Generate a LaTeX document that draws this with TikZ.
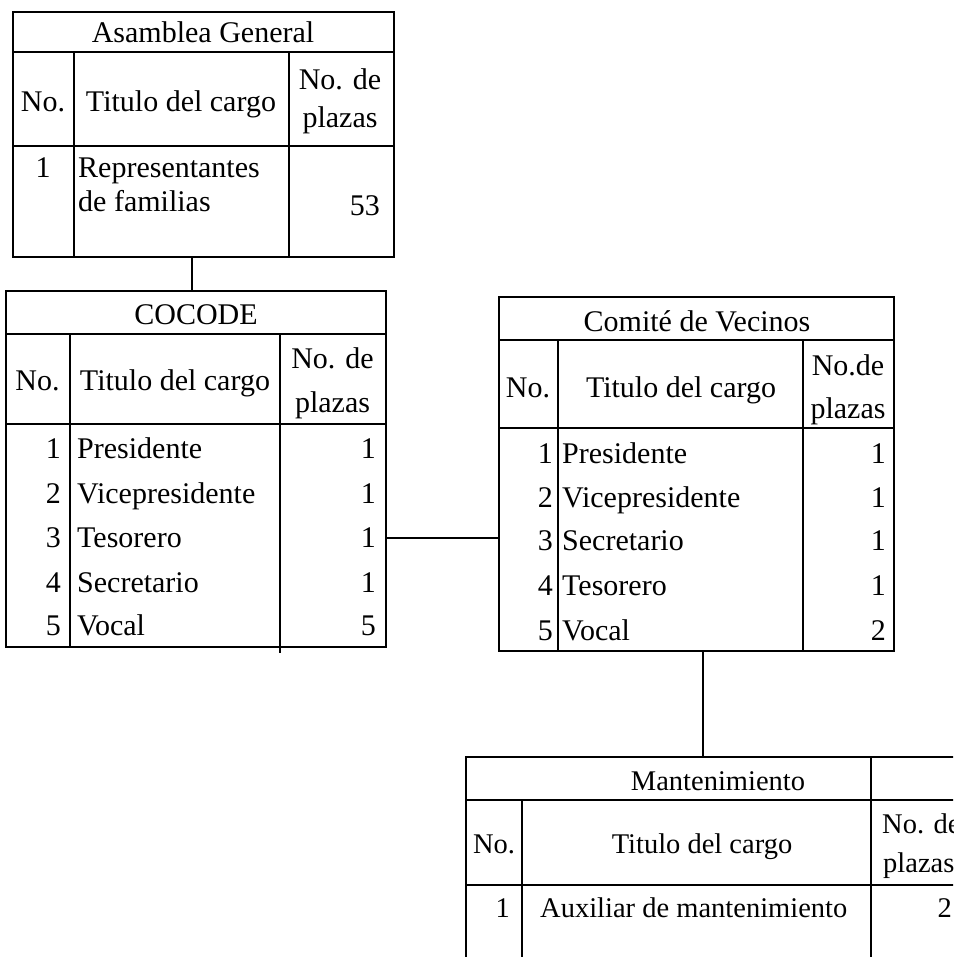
\documentclass[tikz,border=0pt]{standalone}
\usepackage{fontspec}
\setmainfont{Liberation Serif}
\begin{document}
\begin{tikzpicture}[x=1pt,y=-1pt,
  tbl/.style={draw, line width=1.6pt, inner sep=0pt, anchor=north west},
  rule/.style={line width=1.6pt},
  conn/.style={line width=1.6pt},
  txt/.style={inner sep=0pt, font=\fontsize{30}{36}\selectfont},
  c/.style={txt, anchor=base},
  l/.style={txt, anchor=base west},
  r/.style={txt, anchor=base east},
  small/.style={font=\fontsize{28.5}{34}\selectfont}]
\clip (0,0) rectangle (953,957);
\fill[white] (0,0) rectangle (953,957);

% ---------- Asamblea General ----------
\node[tbl, minimum width=381pt, minimum height=245pt] (ag) at (12,11) {};
\draw[rule] (12,52) -- (393,52);
\draw[rule] (12,146) -- (393,146);
\draw[rule] (74,52) -- (74,256);
\draw[rule] (289,52) -- (289,256);
\node[c] (agT) at (203,43) {Asamblea General};
\node[c] (agH1) at (43,112) {No.};
\node[c] (agH2) at (181,112) {Titulo del cargo};
\node[c] (agH3a) at (340,90) {No. de};
\node[c] (agH3b) at (340,128) {plazas};
\node[c] (agR1n) at (43,178) {1};
\node[l] (agR1a) at (78,178) {Representantes};
\node[l] (agR1b) at (78,212) {de familias};
\node[r] (agR1p) at (380,216) {53};

% ---------- COCODE ----------
\node[tbl, minimum width=380pt, minimum height=356pt] (cocode) at (5,290) {};
\draw[rule] (5,334) -- (385,334);
\draw[rule] (5,424) -- (385,424);
\draw[rule] (70,334) -- (70,646);
\draw[rule] (280,334) -- (280,653);
\node[c] (coT) at (196,324) {COCODE};
\node[c] (coH1) at (37.5,390) {No.};
\node[c] (coH2) at (175,390) {Titulo del cargo};
\node[c] (coH3a) at (332.5,368) {No. de};
\node[c] (coH3b) at (332.5,412) {plazas};
\node[r] (co1n) at (61,458) {1};
\node[l] (co1t) at (77,458) {Presidente};
\node[r] (co1p) at (376,458) {1};
\node[r] (co2n) at (61,503) {2};
\node[l] (co2t) at (77,503) {Vicepresidente};
\node[r] (co2p) at (376,503) {1};
\node[r] (co3n) at (61,547) {3};
\node[l] (co3t) at (77,547) {Tesorero};
\node[r] (co3p) at (376,547) {1};
\node[r] (co4n) at (61,592) {4};
\node[l] (co4t) at (77,592) {Secretario};
\node[r] (co4p) at (376,592) {1};
\node[r] (co5n) at (61,635) {5};
\node[l] (co5t) at (77,635) {Vocal};
\node[r] (co5p) at (376,635) {5};

% ---------- Comite de Vecinos ----------
\node[tbl, minimum width=395pt, minimum height=354pt] (comite) at (498,296) {};
\draw[rule] (498,340) -- (893,340);
\draw[rule] (498,428) -- (893,428);
\draw[rule] (558,340) -- (558,650);
\draw[rule] (803,340) -- (803,650);
\node[c] (cvT) at (697,331) {Comité de Vecinos};
\node[c] (cvH1) at (528,397) {No.};
\node[c] (cvH2) at (681,397) {Titulo del cargo};
\node[c] (cvH3a) at (848,375) {No.de};
\node[c] (cvH3b) at (848,418) {plazas};
\node[r] (cv1n) at (553,463) {1};
\node[l] (cv1t) at (562,463) {Presidente};
\node[r] (cv1p) at (886,463) {1};
\node[r] (cv2n) at (553,507) {2};
\node[l] (cv2t) at (562,507) {Vicepresidente};
\node[r] (cv2p) at (886,507) {1};
\node[r] (cv3n) at (553,550) {3};
\node[l] (cv3t) at (562,550) {Secretario};
\node[r] (cv3p) at (886,550) {1};
\node[r] (cv4n) at (553,595) {4};
\node[l] (cv4t) at (562,595) {Tesorero};
\node[r] (cv4p) at (886,595) {1};
\node[r] (cv5n) at (553,640) {5};
\node[l] (cv5t) at (562,640) {Vocal};
\node[r] (cv5p) at (886,640) {2};

% ---------- Mantenimiento ----------
\node[tbl, minimum width=600pt, minimum height=300pt] (mant) at (465,756) {};
\draw[rule] (465,800) -- (1065,800);
\draw[rule] (465,885) -- (1065,885);
\draw[rule] (522,800) -- (522,1056);
\draw[rule] (871,756) -- (871,1056);
\node[c, small] (mtT) at (718,790) {Mantenimiento};
\node[c, small] (mtH1) at (494,853) {No.};
\node[c, small] (mtH2) at (702,853) {Titulo del cargo};
\node[l, small] (mtH3a) at (882,833) {No. de};
\node[l, small] (mtH3b) at (883,872) {plazas};
\node[r, small] (mt1n) at (510,917) {1};
\node[l, small] (mt1t) at (540,917) {Auxiliar de mantenimiento};
\node[r, small] (mt1p) at (952,917) {2};

% ---------- connectors ----------
\coordinate (k1) at (192,0);
\coordinate (k2) at (0,538);
\coordinate (k3) at (703,0);
\draw[conn] (ag.south -| k1) -- (cocode.north -| k1);
\draw[conn] (cocode.east |- k2) -- (comite.west |- k2);
\draw[conn] (comite.south -| k3) -- (mant.north -| k3);
\end{tikzpicture}
\end{document}
